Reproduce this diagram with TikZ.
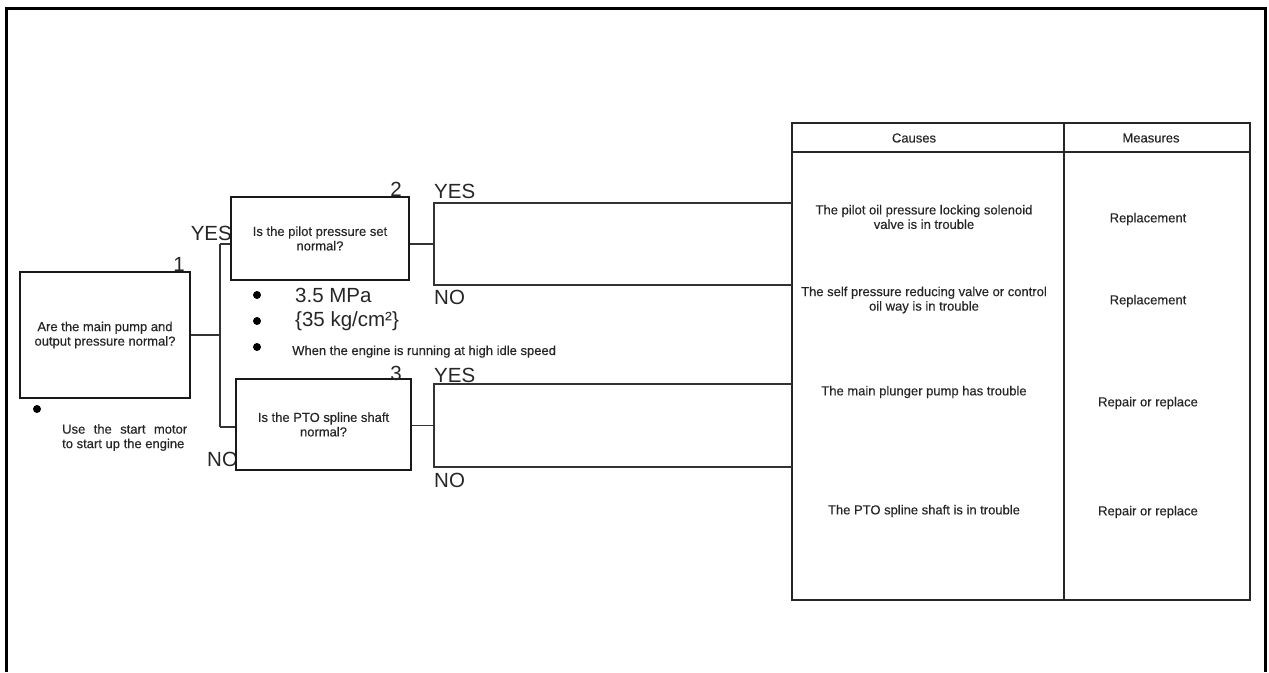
\documentclass[tikz,border=0pt]{standalone}
\usepackage{fontspec}
\setmainfont{Liberation Sans}
\newfontfamily\heavyfont[BoldFont={Liberation Sans},BoldFeatures={FakeBold=0.35}]{Liberation Sans}
\begin{document}
\begin{tikzpicture}[x=1pt,y=-1pt,
  sm/.style={font=\heavyfont\bfseries\fontsize{13}{14.5}\selectfont, text=black!85, align=center, inner sep=0pt},
  big/.style={font=\fontsize{20.5}{22}\selectfont, text=black!85, inner sep=0pt},
  qbox/.style={draw=black!90, line width=1.9pt, fill=white, inner sep=0pt, font=\heavyfont\bfseries\fontsize{13}{14.5}\selectfont, text=black!85, align=center},
  conn/.style={line width=1.6pt, draw=black!80},
  tline/.style={line width=1.6pt, draw=black!85},
  dot/.style={circle, fill=black, inner sep=0pt, minimum size=8pt}]
\useasboundingbox (0,0) rectangle (1269,672);
% outer frame
\draw[line width=3pt] (6,672) -- (6,8) -- (1265,8) -- (1265,672);

% labels partly hidden by boxes (drawn first)
\node[big, anchor=base east] (yesA) at (232,240) {YES};
\node[big, anchor=base west] (noA) at (207,466) {NO};

% question boxes
\node[qbox, minimum width=170pt, minimum height=126pt] (q1) at (105,335) {Are the main pump and\\output pressure normal?};
\node[qbox, minimum width=178pt, minimum height=83pt] (q2) at (320,238.5) {Is the pilot pressure set\\normal?};
\node[qbox, minimum width=175pt, minimum height=91pt] (q3) at (323.5,424.5) {Is the PTO spline shaft\\normal?};

% numbers
\node[big, anchor=base] (n1) at (179,271) {1};
\node[big, anchor=base] (n2) at (396,196) {2};
\node[big, anchor=base] (n3) at (396,380) {3};

% trunk connectors
\coordinate (jm) at (220,335);
\coordinate (jt) at (220,244);
\coordinate (jb) at (220,427);
\draw[conn] (q1.east |- jm) -- (jm);
\draw[conn] (jt) -- (jb);
\draw[conn] (jt) -- (jt -| q2.west);
\draw[conn] (jb) -- (jb -| q3.west);

% table
\node[draw, tline, minimum width=458pt, minimum height=477pt, inner sep=0pt] (tab) at (1021,361.5) {};
\coordinate (hl) at (792,152);
\coordinate (hr) at (1250,152);
\coordinate (ct) at (1064,123);
\coordinate (cb) at (1064,600);
\draw[tline] (hl) -- (hr);
\draw[tline] (ct) -- (cb);
\node[sm] (hc) at (914,138) {Causes};
\node[sm] (hm) at (1151,138) {Measures};

% brackets
\node[minimum width=358pt, minimum height=82pt, inner sep=0pt] (b1) at (613,244) {};
\node[minimum width=358pt, minimum height=83pt, inner sep=0pt] (b2) at (613,425.5) {};
\draw[conn] (b1.north east) -| (b1.south west) -- (b1.south east);
\draw[conn] (b2.north east) -| (b2.south west) -- (b2.south east);
\draw[conn] (q2.east |- b1.west) -- (b1.west);
\draw[conn] (q3.east |- b2.west) -- (b2.west);
\node[big, anchor=base west] (yes2) at (434,198) {YES};
\node[big, anchor=base west] (no2) at (434,304) {NO};
\node[big, anchor=base west] (yes3) at (434,382) {YES};
\node[big, anchor=base west] (no3) at (434,487) {NO};

% bullet notes
\node[dot] (d1) at (257,295) {};
\node[dot] (d2) at (257,321) {};
\node[dot] (d3) at (257,347) {};
\node[dot] (d4) at (37,409) {};
\node[big, anchor=base west] (m1) at (295,302) {3.5 MPa};
\node[big, anchor=base west] (m2) at (295,326) {\{35 kg/cm²\}};
\node[sm, anchor=base west] (m3) at (292,355) {When the engine is running at high idle speed};
\node[sm, anchor=north west, text width=125pt, align=justify] (m4) at (62,424) {\hyphenpenalty=10000 Use the start motor\linebreak to start up the engine};

% table contents
\node[sm] (c1) at (924,217) {The pilot oil pressure locking solenoid\\valve is in trouble};
\node[sm] (r1) at (1148,219) {Replacement};
\node[sm] (c2) at (924,300) {The self pressure reducing valve or control\\oil way is in trouble};
\node[sm] (r2) at (1148,301) {Replacement};
\node[sm] (c3) at (924,392) {The main plunger pump has trouble};
\node[sm] (r3) at (1148,403) {Repair or replace};
\node[sm] (c4) at (924,511) {The PTO spline shaft is in trouble};
\node[sm] (r4) at (1148,512) {Repair or replace};
\end{tikzpicture}
\end{document}
